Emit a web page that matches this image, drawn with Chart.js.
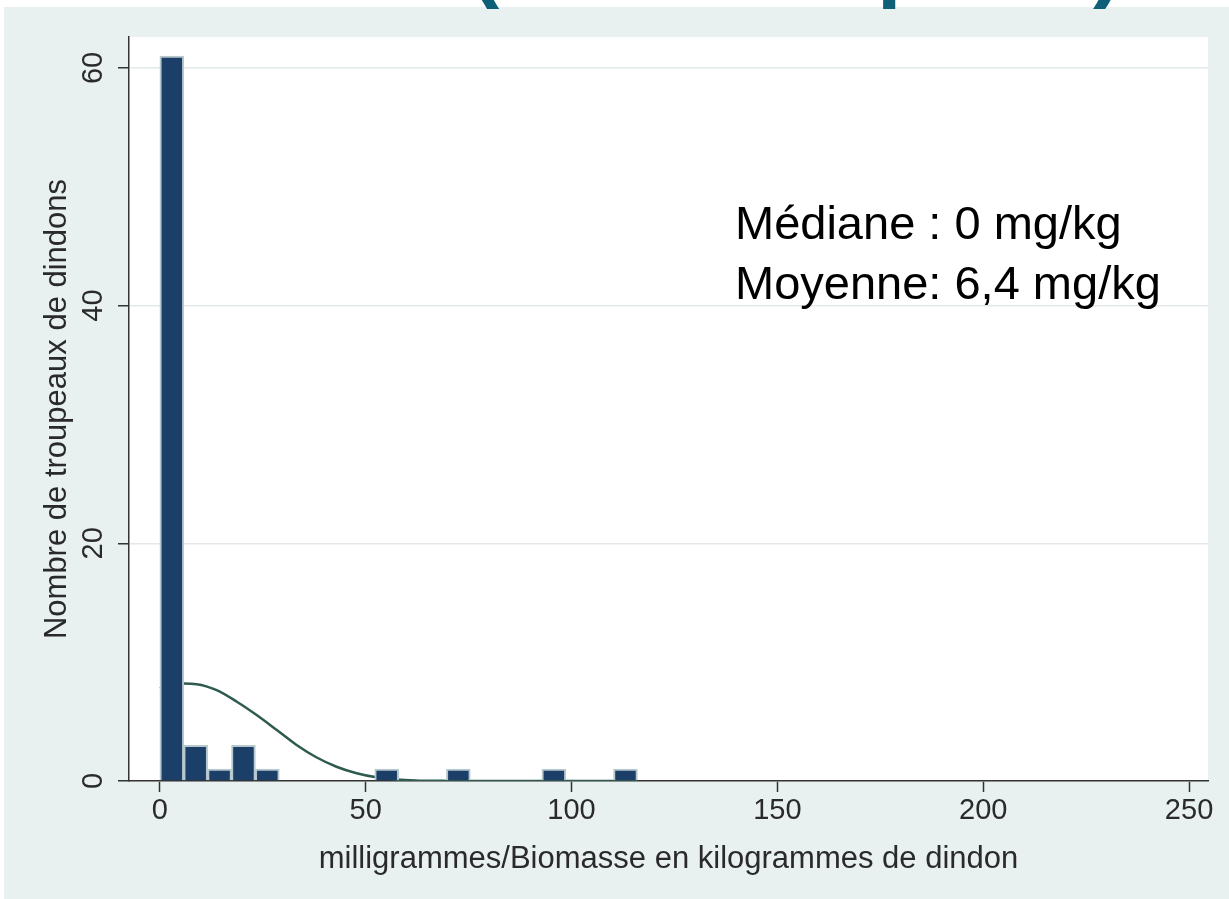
<!DOCTYPE html>
<html><head><meta charset="utf-8">
<script src="https://cdn.jsdelivr.net/npm/chart.js@4.4.1/dist/chart.umd.min.js"></script>
<style>html,body{margin:0;padding:0;background:#fff;overflow:hidden}#wrap{width:1229px;height:899px;position:relative}</style>
</head><body><div id="wrap"><canvas id="c" width="1229" height="899"></canvas></div>
<script>
// Histogram bins (centre of each bin, mg/kg) and counts
const binCenters = [2.9, 8.7, 14.5, 20.3, 26.1, 31.9, 37.7, 43.5, 49.3, 55.1, 60.9, 66.7, 72.5, 78.3, 84.1, 89.9, 95.7, 101.5, 107.3, 113.1];
const binCounts  = [61, 3, 1, 3, 1, 0, 0, 0, 0, 1, 0, 0, 1, 0, 0, 0, 1, 0, 0, 1];
// Overlaid normal-density curve
const curveX = [0, 5.7, 8.9, 13.8, 18.7, 23.5, 28.4, 33.2, 38.0, 42.9, 47.8, 52.6, 57.5, 62, 70, 80, 90, 100, 110, 116];
const curveY = [7.8, 8.2, 8.15, 7.65, 6.67, 5.55, 4.29, 3.03, 2.0, 1.2, 0.65, 0.31, 0.13, 0.05, 0.01, 0, 0, 0, 0, 0];
// Axis ticks and texts
const xTickValues = [0, 50, 100, 150, 200, 250];
const yTickValues = [0, 20, 40, 60];
const xAxisTitle = 'milligrammes/Biomasse en kilogrammes de dindon';
const yAxisTitle = 'Nombre de troupeaux de dindons';
const statLines = ['Médiane : 0 mg/kg', 'Moyenne: 6,4 mg/kg'];
const titleFragments = ['(', 'p', ')'];

const FONT = "'Liberation Sans', Arial, sans-serif";

const bgPlugin = {
  id: 'bg',
  beforeDraw(chart) {
    const {ctx, width, height, chartArea: ca} = chart;
    ctx.save();
    ctx.fillStyle = '#ffffff';
    ctx.fillRect(0, 0, width, height);
    ctx.fillStyle = '#e8f0f0';
    ctx.fillRect(4, 7, width - 4, height - 7);
    ctx.fillStyle = '#ffffff';
    ctx.fillRect(ca.left, ca.top, ca.right - ca.left, ca.bottom - ca.top);
    ctx.restore();
  }
};

const textPlugin = {
  id: 'texts',
  afterDraw(chart) {
    const {ctx, chartArea: ca} = chart;
    const ys = chart.scales.y;
    ctx.save();
    // y tick labels (rotated, Stata style)
    ctx.fillStyle = '#2a2a2a';
    ctx.font = '29px ' + FONT;
    ctx.textAlign = 'center';
    ctx.textBaseline = 'alphabetic';
    ys.ticks.forEach(t => {
      const py = ys.getPixelForValue(t.value);
      ctx.save();
      ctx.translate(102, py);
      ctx.rotate(-Math.PI / 2);
      ctx.fillText(String(t.value), 0, 0);
      ctx.restore();
    });
    // y axis title
    ctx.font = '31px ' + FONT;
    ctx.save();
    ctx.translate(66, (ca.top + ca.bottom) / 2);
    ctx.rotate(-Math.PI / 2);
    ctx.fillText(yAxisTitle, 0, 0);
    ctx.restore();
    // x axis title
    ctx.fillText(xAxisTitle, (ca.left + ca.right) / 2, 868);
    // statistics text
    ctx.fillStyle = '#000000';
    ctx.font = '47px ' + FONT;
    ctx.textAlign = 'left';
    ctx.fillText(statLines[0], 735, 239);
    ctx.fillText(statLines[1], 735, 299);
    // cut-off slide title fragments at the very top
    ctx.fillStyle = '#0e5f78';
    ctx.font = 'bold 88px ' + FONT;
    ctx.fillText(titleFragments[0], 470, -9);
    ctx.fillText(titleFragments[1], 877, -9);
    ctx.fillText(titleFragments[2], 1093, -9);
    ctx.restore();
  }
};

new Chart(document.getElementById('c').getContext('2d'), {
  data: {
    datasets: [
      {
        type: 'bar',
        data: binCenters.map((x, i) => ({x: x, y: binCounts[i]})),
        backgroundColor: '#1b3f68',
        borderColor: '#b7c8cc',
        borderWidth: 2,
        barPercentage: 1,
        categoryPercentage: 1,
        order: 1
      },
      {
        type: 'line',
        data: curveX.map((x, i) => ({x: x, y: curveY[i]})),
        borderColor: '#2f5a4f',
        borderWidth: 2.5,
        pointRadius: 0,
        fill: false,
        cubicInterpolationMode: 'monotone',
        order: 2
      }
    ]
  },
  options: {
    responsive: false,
    animation: false,
    devicePixelRatio: 1,
    layout: {padding: {top: 37, right: 21, left: 0, bottom: 0}},
    plugins: {legend: {display: false}, tooltip: {enabled: false}},
    scales: {
      x: {
        type: 'linear', min: -7.5, max: 254.6, offset: false,
        afterFit(s) { s.height = 118; },
        afterBuildTicks(s) { s.ticks = xTickValues.map(v => ({value: v})); },
        grid: {display: true, offset: false, drawOnChartArea: false, tickLength: 11, tickColor: '#333', tickWidth: 1.5},
        border: {color: '#333', width: 1.5},
        ticks: {color: '#2a2a2a', font: {family: FONT, size: 29}, padding: 2, maxRotation: 0, autoSkip: false}
      },
      y: {
        type: 'linear', min: 0, max: 62.6,
        afterFit(s) { s.width = 129; },
        afterBuildTicks(s) { s.ticks = yTickValues.map(v => ({value: v})); },
        grid: {color: '#e3e9e9', lineWidth: 1.5, tickLength: 11, tickColor: '#333', tickWidth: 1.5},
        border: {color: '#333', width: 1.5},
        ticks: {display: false}
      }
    }
  },
  plugins: [bgPlugin, textPlugin]
});
</script>
</body></html>
